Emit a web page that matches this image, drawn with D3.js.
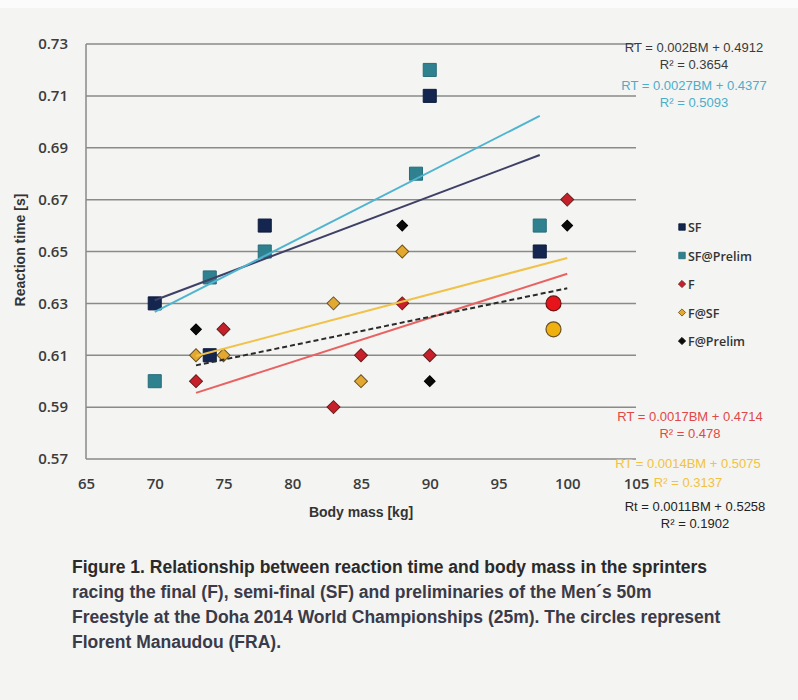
<!DOCTYPE html>
<html>
<head>
<meta charset="utf-8">
<script src="https://cdn.jsdelivr.net/npm/d3@7"></script>
<style>
  body { margin: 0; background: #f4f4f2; }
  svg { display: block; }
</style>
</head>
<body>
<div id="wrapper"></div>
<script>
// body mass [kg] and reaction time [s] per series
const sfMass = [70, 74, 78, 90, 98];
const sfRT = [0.63, 0.61, 0.66, 0.71, 0.65];
const sfPrelimMass = [70, 74, 78, 89, 90, 98];
const sfPrelimRT = [0.60, 0.64, 0.65, 0.68, 0.72, 0.66];
const fMass = [73, 75, 83, 85, 88, 90, 100];
const fRT = [0.60, 0.62, 0.59, 0.61, 0.63, 0.61, 0.67];
const fSfMass = [73, 75, 83, 85, 88];
const fSfRT = [0.61, 0.61, 0.63, 0.60, 0.65];
const fPrelimMass = [73, 88, 90, 100];
const fPrelimRT = [0.62, 0.66, 0.60, 0.66];
// circles: Florent Manaudou (F, F@SF)
const manaudouMass = [99, 99];
const manaudouRT = [0.63, 0.62];

const seriesNames = ["SF", "SF@Prelim", "F", "F@SF", "F@Prelim"];
// trendline equations RT = a*BM + b, drawn over the body mass range of each group
const trendSlopes = [0.002, 0.0027, 0.0017, 0.0014, 0.0011];
const trendIntercepts = [0.4912, 0.4377, 0.4714, 0.5075, 0.5258];
const trendFrom = [70, 70, 73, 73, 73];
const trendTo = [98, 98, 100, 100, 100];
const eqLabels = ["RT = 0.002BM + 0.4912", "RT = 0.0027BM + 0.4377", "RT = 0.0017BM + 0.4714", "RT = 0.0014BM + 0.5075", "Rt = 0.0011BM + 0.5258"];
const r2Labels = ["R² = 0.3654", "R² = 0.5093", "R² = 0.478", "R² = 0.3137", "R² = 0.1902"];

const xTicks = [65, 70, 75, 80, 85, 90, 95, 100, 105];
const yTicks = [0.57, 0.59, 0.61, 0.63, 0.65, 0.67, 0.69, 0.71, 0.73];

const captionLines = [
  "Figure 1. Relationship between reaction time and body mass in the sprinters",
  "racing the final (F), semi-final (SF) and preliminaries of the Men´s 50m",
  "Freestyle at the Doha 2014 World Championships (25m). The circles represent",
  "Florent Manaudou (FRA)."
];

const zip = (xs, ys) => xs.map((x, i) => ({x: x, y: ys[i]}));
const series = [
  {name: seriesNames[0], data: zip(sfMass, sfRT), shape: "square", fill: "#14264f", stroke: "#0d1a3a", line: "#3e4066", eq: "#3a3a3a", dash: null},
  {name: seriesNames[1], data: zip(sfPrelimMass, sfPrelimRT), shape: "square", fill: "#2f8190", stroke: "#266c79", line: "#4fb4d0", eq: "#4aaecb", dash: null},
  {name: seriesNames[2], data: zip(fMass, fRT), shape: "diamond", fill: "#c8202a", stroke: "#6a1a1a", line: "#e86262", eq: "#e04848", dash: null},
  {name: seriesNames[3], data: zip(fSfMass, fSfRT), shape: "diamond", fill: "#e2a830", stroke: "#6b5020", line: "#f0c24a", eq: "#f2c23c", dash: null},
  {name: seriesNames[4], data: zip(fPrelimMass, fPrelimRT), shape: "diamondSmall", fill: "#0a0a0a", stroke: "#000", line: "#2a2a2a", eq: "#222", dash: "5,3"}
];

const W = 798, H = 700;
const svg = d3.select("#wrapper").append("svg").attr("width", W).attr("height", H);

svg.append("rect").attr("x", 0).attr("y", 0).attr("width", W).attr("height", 8).attr("fill", "#fbfbfb");

let xScale = d3.scaleLinear().domain([65, 105]).range([86, 636]);
let yScale = d3.scaleLinear().domain([0.57, 0.73]).range([459, 44]);

// gridlines
svg.append("g")
    .selectAll("line")
    .data(yTicks)
    .enter()
    .append("line")
    .attr("x1", xScale(65))
    .attr("x2", xScale(105))
    .attr("y1", d => yScale(d))
    .attr("y2", d => yScale(d))
    .attr("stroke", "#8a8a8a")
    .attr("stroke-width", 1.5);

svg.append("line")
    .attr("x1", xScale(65)).attr("x2", xScale(65))
    .attr("y1", yScale(0.73)).attr("y2", yScale(0.57))
    .attr("stroke", "#8a8a8a")
    .attr("stroke-width", 1.5);

let yAxisFunction = d3.axisLeft(yScale).tickValues(yTicks).tickFormat(d3.format(".2f")).tickSize(0).tickPadding(18);
let yG = svg.append("g").attr("transform", `translate(86, 0)`).call(yAxisFunction);
yG.select(".domain").remove();

let xAxisFunction = d3.axisBottom(xScale).tickValues(xTicks).tickFormat(d3.format("d")).tickSize(0).tickPadding(19);
let xG = svg.append("g").attr("transform", `translate(0, 459)`).call(xAxisFunction);
xG.select(".domain").remove();

svg.selectAll(".tick text")
    .style("font-family", "'Open Sans', 'Liberation Sans', sans-serif")
    .style("font-size", "15px")
    .style("font-weight", "600")
    .style("fill", "#3c3c3c");

svg.append("text")
    .attr("x", 361).attr("y", 517)
    .style("text-anchor", "middle")
    .style("font-family", "'Liberation Sans', sans-serif")
    .style("font-size", "14px")
    .style("font-weight", "bold")
    .style("fill", "#333")
    .text("Body mass [kg]");

svg.append("text")
    .attr("transform", "translate(25, 250) rotate(-90)")
    .style("text-anchor", "middle")
    .style("font-family", "'Liberation Sans', sans-serif")
    .style("font-size", "14px")
    .style("font-weight", "bold")
    .style("fill", "#333")
    .text("Reaction time [s]");

// markers
const symbolPath = shape => {
    if (shape == "square") return d3.symbol(d3.symbolSquare, 170)();
    if (shape == "diamond") return d3.symbol(d3.symbolSquare, 84)();
    return d3.symbol(d3.symbolSquare, 58)();
};
const rot = shape => shape == "square" ? "" : " rotate(45)";

let drawOrder = [2, 3, 4, 0, 1];
drawOrder.forEach(i => {
    let s = series[i];
    svg.append("g")
        .selectAll("path")
        .data(s.data)
        .enter()
        .append("path")
        .attr("d", symbolPath(s.shape))
        .attr("transform", d => `translate(${xScale(d.x)}, ${yScale(d.y)})${rot(s.shape)}`)
        .attr("fill", s.fill)
        .attr("stroke", s.stroke)
        .attr("stroke-width", 1);
});

svg.append("g")
    .selectAll("circle")
    .data(zip(manaudouMass, manaudouRT))
    .enter()
    .append("circle")
    .attr("cx", d => xScale(d.x))
    .attr("cy", d => yScale(d.y))
    .attr("r", 7.5)
    .attr("fill", (d, i) => i == 0 ? "#e8141c" : "#f0b010")
    .attr("stroke", (d, i) => i == 0 ? "#701010" : "#6b5020")
    .attr("stroke-width", 1.2);

// trendlines
series.forEach((s, i) => {
    let pts = [trendFrom[i], trendTo[i]].map(x => ({x: x, y: trendSlopes[i] * x + trendIntercepts[i]}));
    svg.append("path")
        .attr("d", d3.line().x(d => xScale(d.x)).y(d => yScale(d.y))(pts))
        .attr("stroke", s.line)
        .attr("stroke-width", 2)
        .attr("stroke-dasharray", s.dash)
        .attr("fill", "none");
});

// equation labels
const eqPos = [[694, 52, 69], [694, 90, 107], [690, 421, 438], [688, 468, 487], [695, 511, 528]];
series.forEach((s, i) => {
    [eqLabels[i], r2Labels[i]].forEach((t, j) => {
        svg.append("text")
            .attr("x", eqPos[i][0])
            .attr("y", eqPos[i][j + 1])
            .style("text-anchor", "middle")
            .style("font-family", "'Liberation Sans', sans-serif")
            .style("font-size", "13px")
            .style("fill", s.eq)
            .text(t);
    });
});

// legend
let legend = svg.append("g")
    .selectAll("g")
    .data(series)
    .enter()
    .append("g")
    .attr("transform", (d, i) => `translate(682, ${227 + i * 28.5})`);

legend.append("path")
    .attr("d", d => d.shape == "square" ? d3.symbol(d3.symbolSquare, 42)() : d3.symbol(d3.symbolSquare, 26)())
    .attr("transform", d => d.shape == "square" ? "" : "rotate(45)")
    .attr("fill", d => d.fill)
    .attr("stroke", d => d.stroke)
    .attr("stroke-width", 0.8);

legend.append("text")
    .attr("x", 6)
    .attr("y", 5)
    .style("font-family", "'Open Sans', 'Liberation Sans', sans-serif")
    .style("font-size", "12.5px")
    .style("font-weight", "600")
    .style("fill", "#333")
    .text(d => d.name);

// caption
svg.append("g")
    .selectAll("text")
    .data(captionLines)
    .enter()
    .append("text")
    .attr("x", 72)
    .attr("y", (d, i) => 573 + i * 25)
    .style("font-family", "'Liberation Sans', sans-serif")
    .style("font-size", "17.5px")
    .style("font-weight", "bold")
    .style("fill", (d, i) => i == 0 ? "#2a2a2a" : "#3a3a48")
    .text(d => d);
</script>
</body>
</html>
